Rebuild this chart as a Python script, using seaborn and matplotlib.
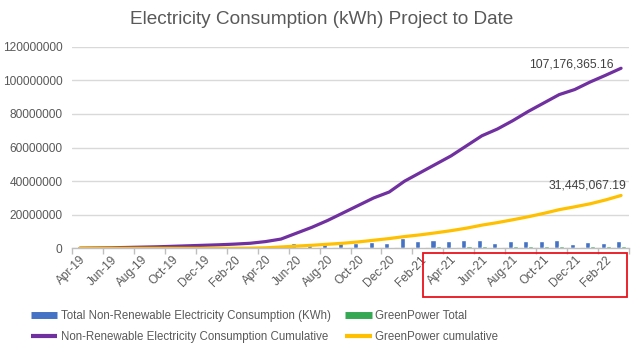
import numpy as np
import pandas as pd
import matplotlib
matplotlib.use("Agg")
import matplotlib.pyplot as plt
import seaborn as sns
from matplotlib.lines import Line2D
from matplotlib.patches import Rectangle

months = ["Apr-19", "May-19", "Jun-19", "Jul-19", "Aug-19", "Sep-19", "Oct-19", "Nov-19",
          "Dec-19", "Jan-20", "Feb-20", "Mar-20", "Apr-20", "May-20", "Jun-20", "Jul-20",
          "Aug-20", "Sep-20", "Oct-20", "Nov-20", "Dec-20", "Jan-21", "Feb-21", "Mar-21",
          "Apr-21", "May-21", "Jun-21", "Jul-21", "Aug-21", "Sep-21", "Oct-21", "Nov-21",
          "Dec-21", "Jan-22", "Feb-22", "Mar-22"]

# monthly values (kWh)
nonrenew_total = [0.1e6, 0.1e6, 0.1e6, 0.2e6, 0.2e6, 0.2e6, 0.3e6, 0.3e6, 0.3e6, 0.3e6, 0.4e6, 0.5e6,
                  1.0e6, 1.4e6, 3.0e6, 2.6e6, 3.2e6, 3.8e6, 3.0e6, 3.8e6, 3.0e6, 6.2e6, 4.6e6, 5.0e6,
                  4.4e6, 4.8e6, 4.8e6, 3.0e6, 4.4e6, 4.4e6, 4.4e6, 4.8e6, 2.8e6, 3.6e6, 3.4e6, 4.2e6]
greenpower_total = [0, 0, 0, 0, 0, 0, 0, 0, 0, 0, 0, 0,
                    0, 0.2e6, 0.4e6, 0.5e6, 0.8e6, 0.6e6, 0.7e6, 0.9e6, 0.8e6, 1.0e6, 1.0e6, 1.1e6,
                    1.0e6, 1.2e6, 1.2e6, 1.0e6, 1.2e6, 1.1e6, 1.2e6, 1.3e6, 1.0e6, 1.1e6, 1.1e6, 1.2e6]

# cumulative values (kWh)
nonrenew_cum = [0.1e6, 0.2e6, 0.3e6, 0.5e6, 0.7e6, 0.9e6, 1.2e6, 1.5e6, 1.8e6, 2.1e6, 2.5e6, 3.0e6,
                4.0e6, 5.5e6, 9.0e6, 12.5e6, 16.5e6, 21.0e6, 25.5e6, 30.0e6, 33.5e6, 40.0e6, 45.0e6, 50.0e6,
                55.0e6, 61.0e6, 67.0e6, 71.0e6, 76.0e6, 81.5e6, 86.5e6, 91.5e6, 94.5e6, 99.0e6, 103.0e6,
                107176365.16]
greenpower_cum = [0.0, 0.0, 0.0, 0.0, 0.0, 0.0, 0.0, 0.0, 0.0, 0.0, 0.0, 0.1e6,
                  0.3e6, 0.8e6, 1.3e6, 1.8e6, 2.4e6, 3.0e6, 3.8e6, 4.8e6, 5.8e6, 7.0e6, 8.0e6, 9.2e6,
                  10.5e6, 12.0e6, 13.8e6, 15.3e6, 17.0e6, 18.8e6, 20.8e6, 23.0e6, 24.7e6, 26.5e6, 28.8e6,
                  31445067.19]

series_names = ["Total Non-Renewable Electricity Consumption (KWh)", "GreenPower Total",
                "Non-Renewable Electricity Consumption Cumulative", "GreenPower cumulative"]
end_labels = ["107,176,365.16", "31,445,067.19"]
yticks = [0, 20000000, 40000000, 60000000, 80000000, 100000000, 120000000]

BLUE = "#4472C4"
GREEN = "#34A853"
PURPLE = "#7030A0"
YELLOW = "#FFC000"
TXT = "#595959"

sns.set_theme(style="white")
plt.rcParams["font.family"] = ["Liberation Sans", "DejaVu Sans"]

fig = plt.figure(figsize=(6.43, 3.47), dpi=100)
ax = fig.add_axes([0.1124, 0.2844, 0.8655, 0.5810])

df = pd.DataFrame({
    "month": months * 2,
    "value": nonrenew_total + greenpower_total,
    "series": [series_names[0]] * len(months) + [series_names[1]] * len(months),
})
sns.barplot(data=df, x="month", y="value", hue="series", order=months,
            hue_order=series_names[:2], palette=[BLUE, GREEN], width=0.66,
            errorbar=None, legend=False, ax=ax, saturation=1)

xpos = np.arange(len(months))
sns.lineplot(x=xpos, y=nonrenew_cum, color=PURPLE, linewidth=2.3, ax=ax, legend=False)
sns.lineplot(x=xpos, y=greenpower_cum, color=YELLOW, linewidth=2.3, ax=ax, legend=False)

ax.set_xlim(-0.5, len(months) - 0.5)
ax.set_ylim(0, 120000000)
ax.set_yticks(yticks)
ax.set_yticklabels([str(v) for v in yticks], color=TXT, fontsize=8.6)
ax.yaxis.grid(True, color="#D9D9D9", linewidth=1)
ax.set_axisbelow(True)
ax.tick_params(axis="y", length=0, pad=7)

ax.set_xticks(xpos[::2])
ax.set_xticklabels(months[::2], rotation=45, ha="right", rotation_mode="anchor",
                   color=TXT, fontsize=8.6)
ax.tick_params(axis="x", length=0, pad=4)
ax.set_xticks(np.arange(-0.5, len(months), 2), minor=True)
ax.tick_params(axis="x", which="minor", length=4, color="#BFBFBF", width=1, bottom=True)
ax.set_xlabel("")
ax.set_ylabel("")

for s in ["top", "right", "left"]:
    ax.spines[s].set_visible(False)
ax.spines["bottom"].set_color("#BFBFBF")
ax.spines["bottom"].set_linewidth(1)

ax.annotate(end_labels[0], xy=(xpos[-1], nonrenew_cum[-1]), xytext=(-5, 3),
            textcoords="offset points", ha="right", va="center", fontsize=8.8, color="#404040")
ax.annotate(end_labels[1], xy=(xpos[-1], greenpower_cum[-1]), xytext=(4, 7),
            textcoords="offset points", ha="right", va="center", fontsize=8.8, color="#404040")

fig.text(0.5, 0.945, "Electricity Consumption (kWh) Project to Date", ha="center", va="center",
         fontsize=13.7, color=TXT)

handles = [Line2D([], [], color=BLUE, lw=5, solid_capstyle="butt"),
           Line2D([], [], color=PURPLE, lw=3, solid_capstyle="butt"),
           Line2D([], [], color=GREEN, lw=5, solid_capstyle="butt"),
           Line2D([], [], color=YELLOW, lw=3, solid_capstyle="butt")]
labels = [series_names[0], series_names[2], series_names[1], series_names[3]]
leg = fig.legend(handles, labels, ncol=2, loc="upper left", bbox_to_anchor=(0.041, 0.119),
                 frameon=False, fontsize=8.3, handlelength=2.3, handletextpad=0.3,
                 columnspacing=1.25, labelspacing=0.76, borderaxespad=0)
for t in leg.get_texts():
    t.set_color(TXT)

fig.add_artist(Rectangle((423 / 643, 1 - 297 / 347), (627 - 423) / 643, (297 - 253) / 347,
                         transform=fig.transFigure, fill=False, edgecolor="#E8121E", linewidth=1.3))

fig.savefig("out.png", dpi=100)
